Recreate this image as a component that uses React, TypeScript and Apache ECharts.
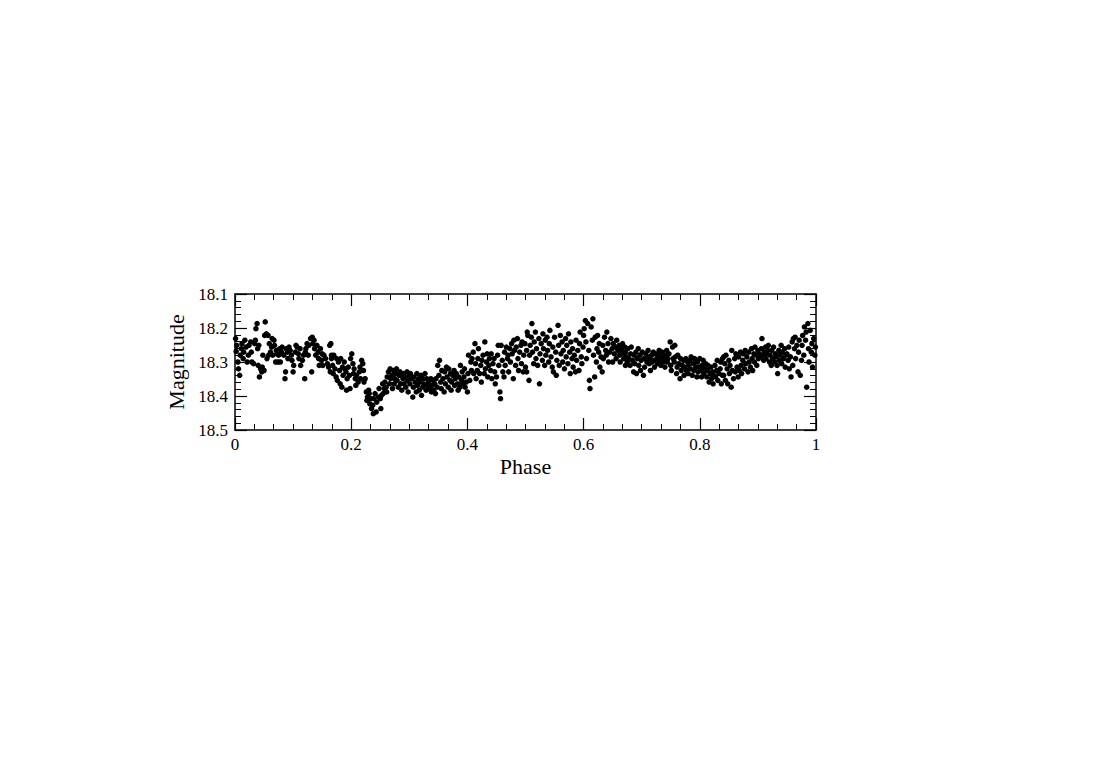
import React, { useEffect, useRef } from "react";
import * as echarts from "echarts";

// Phase / magnitude pairs
const seg1: number[][] = [
  [0.001, 18.231], [0.002, 18.269], [0.003, 18.251], [0.005, 18.300], [0.006, 18.320], [0.008, 18.339],
  [0.009, 18.280], [0.011, 18.261], [0.012, 18.246], [0.014, 18.290], [0.015, 18.271], [0.017, 18.236],
  [0.019, 18.256], [0.021, 18.300], [0.023, 18.280], [0.024, 18.251], [0.027, 18.241], [0.028, 18.271],
  [0.029, 18.300], [0.032, 18.305], [0.034, 18.246], [0.035, 18.236], [0.036, 18.202], [0.038, 18.187],
  [0.039, 18.261], [0.040, 18.310], [0.041, 18.251], [0.042, 18.344], [0.044, 18.320], [0.046, 18.329],
  [0.047, 18.315], [0.048, 18.280], [0.050, 18.325], [0.051, 18.222], [0.052, 18.182], [0.054, 18.217],
  [0.055, 18.290], [0.057, 18.222], [0.058, 18.280], [0.059, 18.246], [0.061, 18.271], [0.063, 18.256],
  [0.064, 18.231], [0.065, 18.280], [0.067, 18.236], [0.068, 18.251], [0.070, 18.300], [0.071, 18.266],
  [0.072, 18.276], [0.074, 18.300], [0.075, 18.280], [0.077, 18.261], [0.078, 18.300], [0.080, 18.271],
  [0.081, 18.256], [0.084, 18.280], [0.086, 18.349], [0.087, 18.329], [0.088, 18.261], [0.090, 18.271],
  [0.091, 18.290], [0.093, 18.256], [0.095, 18.266], [0.097, 18.280], [0.098, 18.295], [0.100, 18.329],
  [0.101, 18.310], [0.104, 18.271], [0.105, 18.251], [0.107, 18.256], [0.109, 18.276], [0.110, 18.290],
  [0.112, 18.261], [0.113, 18.310], [0.116, 18.295], [0.118, 18.280], [0.120, 18.349], [0.121, 18.271],
  [0.122, 18.261], [0.124, 18.246], [0.126, 18.280], [0.127, 18.251], [0.130, 18.231], [0.132, 18.329],
  [0.133, 18.227], [0.134, 18.246], [0.136, 18.236], [0.137, 18.261], [0.139, 18.280], [0.141, 18.251],
  [0.143, 18.271], [0.144, 18.290], [0.145, 18.310], [0.147, 18.261], [0.149, 18.295], [0.150, 18.276],
  [0.151, 18.310], [0.153, 18.280], [0.156, 18.290], [0.159, 18.305], [0.161, 18.315], [0.163, 18.251],
  [0.164, 18.329], [0.166, 18.290],
];

const seg2: number[][] = [
  [0.165, 18.246], [0.166, 18.280], [0.168, 18.310], [0.169, 18.334], [0.170, 18.280], [0.172, 18.320],
  [0.174, 18.344], [0.175, 18.290], [0.176, 18.354], [0.178, 18.300], [0.180, 18.325], [0.181, 18.364],
  [0.182, 18.290], [0.184, 18.374], [0.185, 18.315], [0.186, 18.339], [0.188, 18.300], [0.189, 18.320],
  [0.191, 18.329], [0.192, 18.383], [0.193, 18.349], [0.195, 18.315], [0.197, 18.339], [0.198, 18.378],
  [0.199, 18.290], [0.201, 18.276], [0.203, 18.305], [0.204, 18.334], [0.205, 18.320], [0.207, 18.349],
  [0.208, 18.369], [0.209, 18.339], [0.212, 18.359], [0.214, 18.329], [0.215, 18.315], [0.216, 18.349],
  [0.218, 18.295], [0.220, 18.305], [0.221, 18.325], [0.222, 18.359], [0.224, 18.349], [0.226, 18.388],
  [0.227, 18.413], [0.228, 18.403], [0.230, 18.383], [0.231, 18.393], [0.232, 18.423], [0.234, 18.408],
  [0.235, 18.437], [0.237, 18.427], [0.238, 18.452], [0.239, 18.408], [0.241, 18.393], [0.243, 18.447],
  [0.244, 18.418], [0.247, 18.403], [0.248, 18.378], [0.250, 18.408], [0.251, 18.437], [0.252, 18.398],
  [0.254, 18.364], [0.255, 18.393], [0.257, 18.378], [0.258, 18.359], [0.260, 18.374], [0.261, 18.388],
  [0.262, 18.344], [0.264, 18.329], [0.266, 18.364], [0.267, 18.320], [0.268, 18.349], [0.270, 18.339],
  [0.271, 18.378], [0.273, 18.325], [0.274, 18.364], [0.275, 18.349], [0.277, 18.334], [0.278, 18.320],
  [0.279, 18.354], [0.281, 18.374], [0.283, 18.339], [0.284, 18.329], [0.285, 18.364], [0.287, 18.383],
  [0.289, 18.349], [0.290, 18.334], [0.291, 18.364], [0.293, 18.344], [0.294, 18.374], [0.296, 18.329],
  [0.297, 18.354], [0.298, 18.388], [0.300, 18.339], [0.301, 18.364], [0.302, 18.334], [0.304, 18.349],
  [0.306, 18.403], [0.307, 18.374], [0.308, 18.344], [0.310, 18.359], [0.312, 18.388], [0.313, 18.334],
  [0.314, 18.369], [0.316, 18.349], [0.317, 18.383], [0.318, 18.359], [0.320, 18.339], [0.321, 18.398],
  [0.323, 18.374], [0.324, 18.349], [0.325, 18.364], [0.327, 18.334], [0.329, 18.383], [0.330, 18.349],
  [0.331, 18.369], [0.333, 18.359], [0.335, 18.378],
];

const seg3: number[][] = [
  [0.333, 18.364], [0.335, 18.378], [0.337, 18.349], [0.338, 18.388], [0.339, 18.369], [0.341, 18.354],
  [0.342, 18.383], [0.344, 18.364], [0.345, 18.393], [0.346, 18.349], [0.348, 18.374], [0.349, 18.310],
  [0.351, 18.339], [0.352, 18.295], [0.354, 18.359], [0.355, 18.378], [0.356, 18.325], [0.358, 18.349],
  [0.360, 18.388], [0.361, 18.329], [0.362, 18.364], [0.364, 18.315], [0.365, 18.344], [0.367, 18.374],
  [0.368, 18.320], [0.370, 18.354], [0.371, 18.334], [0.372, 18.383], [0.373, 18.359], [0.375, 18.339],
  [0.377, 18.325], [0.378, 18.369], [0.379, 18.349], [0.381, 18.334], [0.383, 18.364], [0.384, 18.383],
  [0.385, 18.344], [0.387, 18.374], [0.388, 18.310], [0.390, 18.354], [0.391, 18.329], [0.392, 18.364],
  [0.394, 18.344], [0.395, 18.320], [0.396, 18.374], [0.398, 18.359], [0.400, 18.388], [0.401, 18.334],
  [0.402, 18.280], [0.404, 18.354], [0.406, 18.300], [0.407, 18.325], [0.408, 18.290], [0.410, 18.271],
  [0.411, 18.334], [0.413, 18.246], [0.414, 18.305], [0.415, 18.349], [0.417, 18.325], [0.418, 18.290],
  [0.419, 18.261], [0.421, 18.334], [0.423, 18.310], [0.424, 18.359], [0.425, 18.295], [0.427, 18.280],
  [0.429, 18.334], [0.430, 18.241], [0.431, 18.320], [0.433, 18.300], [0.434, 18.276], [0.435, 18.344],
  [0.437, 18.310], [0.438, 18.290], [0.440, 18.325], [0.441, 18.276], [0.442, 18.349], [0.444, 18.305],
  [0.446, 18.290], [0.447, 18.329], [0.448, 18.364], [0.450, 18.344], [0.452, 18.280], [0.453, 18.251],
  [0.454, 18.310], [0.456, 18.388], [0.457, 18.408], [0.458, 18.251], [0.460, 18.295], [0.461, 18.329],
  [0.463, 18.344], [0.464, 18.271], [0.465, 18.310], [0.467, 18.256], [0.469, 18.290], [0.470, 18.280],
  [0.471, 18.329], [0.473, 18.261], [0.474, 18.300], [0.476, 18.246], [0.477, 18.276], [0.479, 18.349],
  [0.480, 18.236], [0.481, 18.266], [0.483, 18.310], [0.484, 18.256], [0.486, 18.231], [0.487, 18.290],
  [0.488, 18.325], [0.490, 18.271], [0.492, 18.251], [0.493, 18.305], [0.494, 18.241], [0.496, 18.329],
  [0.497, 18.280], [0.499, 18.246], [0.500, 18.315], [0.502, 18.266], [0.503, 18.212],
];

const seg4: number[][] = [
  [0.502, 18.329], [0.504, 18.222], [0.506, 18.354], [0.507, 18.280], [0.508, 18.251], [0.510, 18.227],
  [0.511, 18.187], [0.512, 18.271], [0.514, 18.305], [0.515, 18.241], [0.517, 18.212], [0.518, 18.290],
  [0.519, 18.261], [0.521, 18.310], [0.523, 18.231], [0.524, 18.364], [0.525, 18.276], [0.527, 18.246],
  [0.529, 18.295], [0.530, 18.217], [0.531, 18.261], [0.533, 18.310], [0.534, 18.236], [0.535, 18.280],
  [0.537, 18.227], [0.538, 18.266], [0.540, 18.300], [0.541, 18.246], [0.542, 18.207], [0.544, 18.285],
  [0.546, 18.315], [0.547, 18.256], [0.548, 18.329], [0.550, 18.227], [0.552, 18.271], [0.553, 18.339],
  [0.554, 18.295], [0.556, 18.192], [0.557, 18.251], [0.558, 18.310], [0.560, 18.222], [0.561, 18.276],
  [0.563, 18.241], [0.564, 18.300], [0.565, 18.266], [0.567, 18.320], [0.569, 18.231], [0.570, 18.285],
  [0.571, 18.251], [0.573, 18.305], [0.574, 18.217], [0.576, 18.271], [0.577, 18.334], [0.578, 18.241],
  [0.580, 18.290], [0.581, 18.261], [0.582, 18.315], [0.584, 18.280], [0.586, 18.329], [0.587, 18.236],
  [0.588, 18.295], [0.590, 18.266], [0.592, 18.325], [0.593, 18.246], [0.594, 18.212], [0.596, 18.285],
  [0.597, 18.305], [0.599, 18.256], [0.600, 18.222], [0.601, 18.202], [0.603, 18.178], [0.604, 18.241],
  [0.605, 18.290], [0.607, 18.187], [0.609, 18.266], [0.610, 18.354], [0.611, 18.378], [0.613, 18.197],
  [0.615, 18.236], [0.616, 18.173], [0.617, 18.280], [0.619, 18.344], [0.620, 18.227], [0.622, 18.300],
  [0.623, 18.261], [0.624, 18.222], [0.626, 18.271], [0.627, 18.246], [0.628, 18.315], [0.630, 18.285],
  [0.632, 18.329], [0.633, 18.251], [0.634, 18.290], [0.636, 18.227], [0.638, 18.266], [0.639, 18.280],
  [0.640, 18.212], [0.642, 18.246], [0.643, 18.300], [0.645, 18.271], [0.647, 18.231], [0.649, 18.261],
  [0.650, 18.300], [0.651, 18.246], [0.653, 18.276], [0.655, 18.256], [0.656, 18.290], [0.657, 18.236],
  [0.659, 18.266], [0.661, 18.251], [0.662, 18.280], [0.663, 18.300], [0.665, 18.261], [0.666, 18.271],
  [0.667, 18.246], [0.669, 18.290], [0.670, 18.276], [0.672, 18.310],
];

const seg5: number[][] = [
  [0.671, 18.256], [0.672, 18.271], [0.674, 18.285], [0.675, 18.300], [0.676, 18.261], [0.678, 18.290],
  [0.680, 18.310], [0.681, 18.276], [0.682, 18.256], [0.684, 18.295], [0.686, 18.329], [0.687, 18.280],
  [0.688, 18.305], [0.690, 18.271], [0.691, 18.334], [0.692, 18.290], [0.694, 18.261], [0.695, 18.310],
  [0.697, 18.280], [0.698, 18.325], [0.699, 18.295], [0.701, 18.271], [0.703, 18.339], [0.704, 18.290],
  [0.705, 18.315], [0.707, 18.276], [0.709, 18.300], [0.710, 18.285], [0.711, 18.266], [0.713, 18.305],
  [0.714, 18.290], [0.715, 18.325], [0.717, 18.280], [0.718, 18.300], [0.720, 18.271], [0.721, 18.295],
  [0.722, 18.315], [0.724, 18.276], [0.726, 18.290], [0.727, 18.305], [0.728, 18.280], [0.730, 18.266],
  [0.731, 18.295], [0.733, 18.310], [0.734, 18.285], [0.735, 18.271], [0.737, 18.300], [0.738, 18.290],
  [0.740, 18.315], [0.741, 18.280], [0.743, 18.266], [0.744, 18.300], [0.745, 18.290], [0.747, 18.276],
  [0.749, 18.241], [0.750, 18.310], [0.751, 18.325], [0.753, 18.256], [0.754, 18.290], [0.756, 18.300],
  [0.757, 18.251], [0.758, 18.285], [0.760, 18.334], [0.761, 18.315], [0.762, 18.280], [0.764, 18.305],
  [0.766, 18.349], [0.767, 18.290], [0.768, 18.325], [0.770, 18.310], [0.772, 18.295], [0.773, 18.339],
  [0.774, 18.315], [0.776, 18.290], [0.777, 18.325], [0.779, 18.300], [0.780, 18.334], [0.781, 18.310],
  [0.783, 18.295], [0.784, 18.320], [0.785, 18.285], [0.787, 18.339], [0.789, 18.305], [0.790, 18.325],
  [0.791, 18.290], [0.793, 18.315], [0.795, 18.344], [0.796, 18.300], [0.797, 18.329], [0.799, 18.315],
  [0.800, 18.290], [0.802, 18.325], [0.803, 18.344], [0.804, 18.310], [0.806, 18.295], [0.807, 18.334],
  [0.808, 18.320], [0.810, 18.305], [0.812, 18.344], [0.813, 18.325], [0.814, 18.310], [0.816, 18.359],
  [0.818, 18.334], [0.819, 18.315], [0.820, 18.349], [0.822, 18.329], [0.823, 18.364], [0.824, 18.339],
  [0.826, 18.310], [0.827, 18.344], [0.829, 18.325], [0.830, 18.295], [0.831, 18.354], [0.833, 18.334],
  [0.835, 18.320], [0.836, 18.300], [0.837, 18.364], [0.839, 18.339], [0.841, 18.285],
];

const seg6: number[][] = [
  [0.839, 18.290], [0.841, 18.339], [0.843, 18.305], [0.844, 18.354], [0.845, 18.280], [0.847, 18.320],
  [0.848, 18.364], [0.850, 18.295], [0.851, 18.334], [0.852, 18.310], [0.854, 18.374], [0.855, 18.266],
  [0.856, 18.325], [0.858, 18.349], [0.860, 18.290], [0.861, 18.329], [0.862, 18.276], [0.864, 18.315],
  [0.866, 18.344], [0.867, 18.285], [0.868, 18.325], [0.870, 18.271], [0.871, 18.310], [0.872, 18.334],
  [0.874, 18.295], [0.875, 18.276], [0.877, 18.320], [0.878, 18.266], [0.879, 18.305], [0.881, 18.285],
  [0.883, 18.329], [0.884, 18.271], [0.885, 18.300], [0.887, 18.315], [0.889, 18.261], [0.890, 18.290],
  [0.891, 18.325], [0.893, 18.276], [0.894, 18.300], [0.895, 18.256], [0.897, 18.280], [0.898, 18.310],
  [0.900, 18.266], [0.901, 18.290], [0.902, 18.276], [0.904, 18.285], [0.906, 18.261], [0.907, 18.231],
  [0.908, 18.280], [0.910, 18.295], [0.911, 18.271], [0.913, 18.256], [0.914, 18.290], [0.915, 18.276],
  [0.917, 18.266], [0.918, 18.251], [0.920, 18.300], [0.921, 18.280], [0.923, 18.310], [0.924, 18.266],
  [0.925, 18.290], [0.927, 18.256], [0.929, 18.300], [0.930, 18.276], [0.931, 18.285], [0.933, 18.310],
  [0.934, 18.334], [0.936, 18.266], [0.937, 18.295], [0.938, 18.280], [0.940, 18.251], [0.941, 18.305],
  [0.942, 18.271], [0.944, 18.290], [0.946, 18.261], [0.947, 18.315], [0.948, 18.280], [0.950, 18.276],
  [0.952, 18.295], [0.953, 18.256], [0.954, 18.320], [0.956, 18.285], [0.957, 18.344], [0.959, 18.241],
  [0.960, 18.310], [0.961, 18.231], [0.963, 18.261], [0.964, 18.227], [0.965, 18.290], [0.967, 18.251],
  [0.969, 18.329], [0.970, 18.271], [0.971, 18.236], [0.973, 18.339], [0.975, 18.295], [0.976, 18.251],
  [0.977, 18.222], [0.979, 18.280], [0.980, 18.197], [0.982, 18.236], [0.983, 18.212], [0.984, 18.374],
  [0.986, 18.187], [0.987, 18.261], [0.988, 18.300], [0.990, 18.207], [0.992, 18.271], [0.993, 18.246],
  [0.994, 18.315], [0.996, 18.231], [0.998, 18.280], [0.999, 18.256],
];

const xTicks = { min: 0, max: 1, interval: 0.2 };
const yTicks = { min: 18.1, max: 18.5, interval: 0.1 };
const xTitle = "Phase";
const yTitle = "Magnitude";

const FONT = "'Liberation Serif', 'Times New Roman', serif";

export default function App() {
  const ref = useRef<HTMLDivElement>(null);

  useEffect(() => {
    if (!ref.current) return;
    const chart = echarts.init(ref.current, undefined, { renderer: "svg" });
    const data = [...seg1, ...seg2, ...seg3, ...seg4, ...seg5, ...seg6];
    const lineStyle = { color: "#000", width: 1.5 };
    const baseX = (pos: "bottom" | "top", main: boolean) => ({
      type: "value",
      position: pos,
      min: xTicks.min,
      max: xTicks.max,
      interval: xTicks.interval,
      axisLine: { show: true, onZero: false, lineStyle },
      axisTick: { show: true, inside: true, length: 12, lineStyle: { color: "#000", width: 1.2 } },
      minorTick: { show: true, splitNumber: 6, length: 6, lineStyle: { color: "#000", width: 1 } },
      splitLine: { show: false },
      axisLabel: {
        show: main,
        color: "#000",
        fontSize: 17,
        fontFamily: FONT,
        margin: 6,
        showMinLabel: true,
        showMaxLabel: true,
        formatter: (v: number) => String(Math.round(v * 10) / 10),
      },
      name: main ? xTitle : "",
      nameLocation: "middle",
      nameGap: 25,
      nameTextStyle: { color: "#000", fontSize: 22, fontFamily: FONT },
    });
    const baseY = (pos: "left" | "right", main: boolean) => ({
      type: "value",
      position: pos,
      inverse: true,
      min: yTicks.min,
      max: yTicks.max,
      interval: yTicks.interval,
      axisLine: { show: true, onZero: false, lineStyle },
      axisTick: { show: true, inside: true, length: 12, lineStyle: { color: "#000", width: 1.2 } },
      minorTick: { show: true, splitNumber: 5, length: 6, lineStyle: { color: "#000", width: 1 } },
      splitLine: { show: false },
      axisLabel: {
        show: main,
        color: "#000",
        fontSize: 17,
        fontFamily: FONT,
        margin: 7,
        showMinLabel: true,
        showMaxLabel: true,
        formatter: (v: number) => v.toFixed(1),
      },
      name: main ? yTitle : "",
      nameLocation: "middle",
      nameGap: 46,
      nameRotate: 90,
      nameTextStyle: { color: "#000", fontSize: 22, fontFamily: FONT },
    });
    chart.setOption({
      animation: false,
      backgroundColor: "#fff",
      grid: { left: 235, right: 291, top: 294, bottom: 352, containLabel: false },
      xAxis: [baseX("bottom", true), baseX("top", false)],
      yAxis: [baseY("left", true), baseY("right", false)],
      series: [
        {
          type: "scatter",
          xAxisIndex: 0,
          yAxisIndex: 0,
          data,
          symbol: "circle",
          symbolSize: 5.5,
          itemStyle: { color: "#000", opacity: 1 },
          clip: false,
        },
      ],
    });
    return () => chart.dispose();
  }, []);

  return (
    <div
      ref={ref}
      style={{ position: "absolute", left: 0, top: 0, width: 1107, height: 782, background: "#fff" }}
    />
  );
}
